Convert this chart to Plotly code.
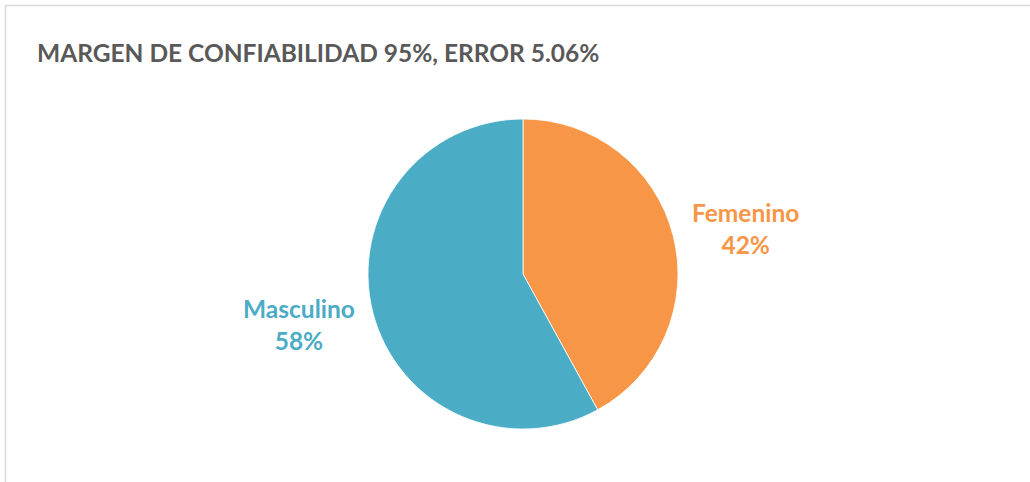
import plotly.graph_objects as go

labels = ["Femenino", "Masculino"]
values = [42, 58]
colors = ["#F79646", "#4BACC6"]
title_text = "MARGEN DE CONFIABILIDAD 95%, ERROR 5.06%"

W, H = 1030, 482
cx, cy, r = 523, 274, 155

fig = go.Figure(go.Pie(
    labels=labels,
    values=values,
    sort=False,
    direction="clockwise",
    rotation=0,
    marker=dict(colors=colors, line=dict(color="#ffffff", width=0.8)),
    textinfo="none",
    hoverinfo="label+percent",
    showlegend=False,
    domain=dict(x=[(cx - r) / W, (cx + r) / W], y=[(H - cy - r) / H, (H - cy + r) / H]),
))

# label positions (paper coords)
label_pos = [(745 / W, 1 - 228 / H), (299 / W, 1 - 324 / H)]
total = sum(values)
annotations = []
for lab, val, col, (ax, ay) in zip(labels, values, colors, label_pos):
    annotations.append(dict(
        x=ax, y=ay, xref="paper", yref="paper", showarrow=False,
        text=f"<b>{lab}</b><br><b>{round(100 * val / total)}%</b>",
        font=dict(family="Lato, Open Sans, sans-serif", size=24.5, color=col),
        align="center", xanchor="center", yanchor="middle",
    ))
annotations.append(dict(
    x=35 / W, y=1 - 52 / H, xref="paper", yref="paper", showarrow=False,
    text=f"<b>{title_text}</b>",
    font=dict(family="Lato, Open Sans, sans-serif", size=24.5, color="#595959"),
    xanchor="left", yanchor="middle",
))

fig.update_layout(
    width=W, height=H,
    margin=dict(l=0, r=0, t=0, b=0),
    paper_bgcolor="#ffffff",
    plot_bgcolor="#ffffff",
    annotations=annotations,
    shapes=[dict(type="rect", xref="paper", yref="paper",
                 x0=5.5 / W, x1=1.05, y0=-0.05, y1=1 - 5.5 / H,
                 line=dict(color="#d9d9d9", width=1.5), fillcolor="rgba(0,0,0,0)")],
)

fig.write_html("out.html", config={"displayModeBar": False},
               post_script="document.body.style.margin='0';")
